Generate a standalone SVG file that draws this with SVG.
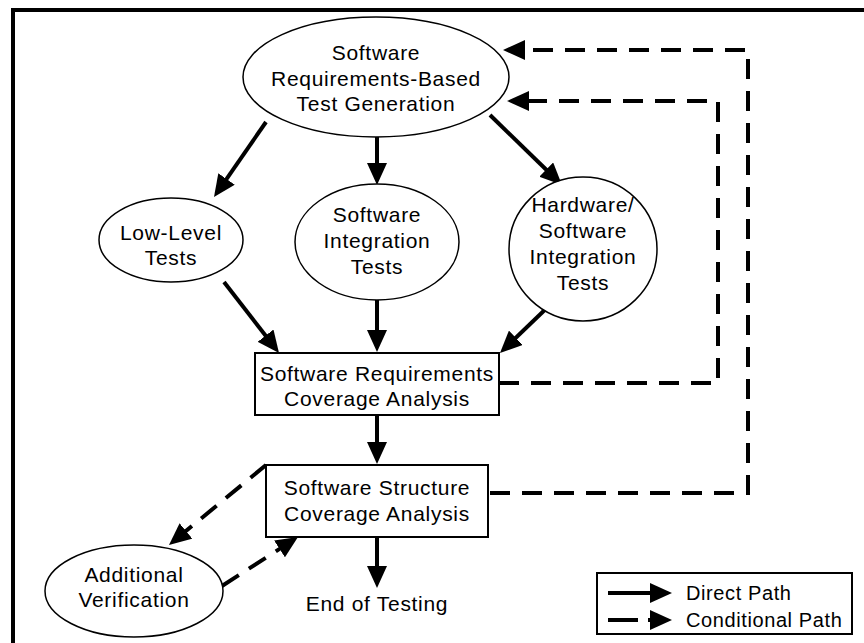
<svg xmlns="http://www.w3.org/2000/svg" width="864" height="643" viewBox="0 0 864 643">
<defs>
<marker id="ah" markerUnits="userSpaceOnUse" markerWidth="22" markerHeight="20" refX="12" refY="10" orient="auto">
<path d="M0,0 L22,10 L0,20 z" fill="#000"/>
</marker>
<style>
.t{font-family:"Liberation Sans",Arial,sans-serif;font-size:21px;letter-spacing:0.7px;fill:#000;text-anchor:middle}
.lt{font-family:"Liberation Sans",Arial,sans-serif;font-size:20px;letter-spacing:0.6px;fill:#000}
.n{fill:#fff;stroke:#000;stroke-width:2}
.e{fill:#fff;stroke:#000;stroke-width:1.5}
.d{fill:none;stroke:#000;stroke-width:4;marker-end:url(#ah)}
.c{fill:none;stroke:#000;stroke-width:4;stroke-dasharray:20 12;marker-end:url(#ah)}
</style>
</defs>
<rect x="0" y="0" width="864" height="643" fill="#fff"/>
<rect x="13" y="10" width="900" height="700" fill="none" stroke="#000" stroke-width="4"/>
<g id="connectors">
<path class="d" d="M266,122 L219.7,188.8"/>
<path class="d" d="M377,137 L377,175"/>
<path class="d" d="M490,115 L554.8,178"/>
<path class="d" d="M224,282 L272.9,345.1"/>
<path class="d" d="M377,300 L377,342"/>
<path class="d" d="M552,303 L507.2,346.1"/>
<path class="d" d="M377,415 L377,454"/>
<path class="d" d="M377,537 L377,578"/>
<path class="c" d="M490,493 H748 V50 H513"/>
<path class="c" d="M499,383 H718 V101 H517"/>
<path class="c" d="M266,465 L176.7,538.6"/>
<path class="c" d="M222,586 L289.6,542.4"/>
</g>
<g id="n-gen">
<ellipse class="e" cx="376" cy="77" rx="133" ry="60"/>
<text class="t" x="376" y="60">Software</text>
<text class="t" x="376" y="86">Requirements-Based</text>
<text class="t" x="376" y="111">Test Generation</text>
</g>
<g id="n-low">
<ellipse class="e" cx="171" cy="240" rx="72" ry="42"/>
<text class="t" x="171" y="240">Low-Level</text>
<text class="t" x="171" y="265">Tests</text>
</g>
<g id="n-swint">
<ellipse class="e" cx="377" cy="242" rx="82" ry="58"/>
<text class="t" x="377" y="222">Software</text>
<text class="t" x="377" y="248">Integration</text>
<text class="t" x="377" y="274">Tests</text>
</g>
<g id="n-hwsw">
<ellipse class="e" cx="583" cy="249" rx="74" ry="72"/>
<text class="t" x="583" y="212">Hardware/</text>
<text class="t" x="583" y="238">Software</text>
<text class="t" x="583" y="264">Integration</text>
<text class="t" x="583" y="290">Tests</text>
</g>
<g id="n-srca">
<rect class="n" x="255" y="353" width="244" height="62"/>
<text class="t" x="377" y="381">Software Requirements</text>
<text class="t" x="377" y="406">Coverage Analysis</text>
</g>
<g id="n-ssca">
<rect class="n" x="266" y="465" width="222" height="72"/>
<text class="t" x="377" y="495">Software Structure</text>
<text class="t" x="377" y="521">Coverage Analysis</text>
</g>
<g id="n-addv">
<ellipse class="e" cx="134" cy="591" rx="89" ry="46"/>
<text class="t" x="134" y="582">Additional</text>
<text class="t" x="134" y="607">Verification</text>
</g>
<g id="n-end">
<text class="t" x="377" y="611">End of Testing</text>
</g>
<g id="legend">
<rect x="597" y="573" width="255" height="61" fill="#fff" stroke="#000" stroke-width="2"/>
<path class="d" d="M608,593 H662"/>
<path d="M608,620 H638" stroke="#000" stroke-width="4"/>
<path class="d" d="M648,620 H662"/>
<text class="lt" x="686" y="600">Direct Path</text>
<text class="lt" x="686" y="627">Conditional Path</text>
</g>
</svg>
